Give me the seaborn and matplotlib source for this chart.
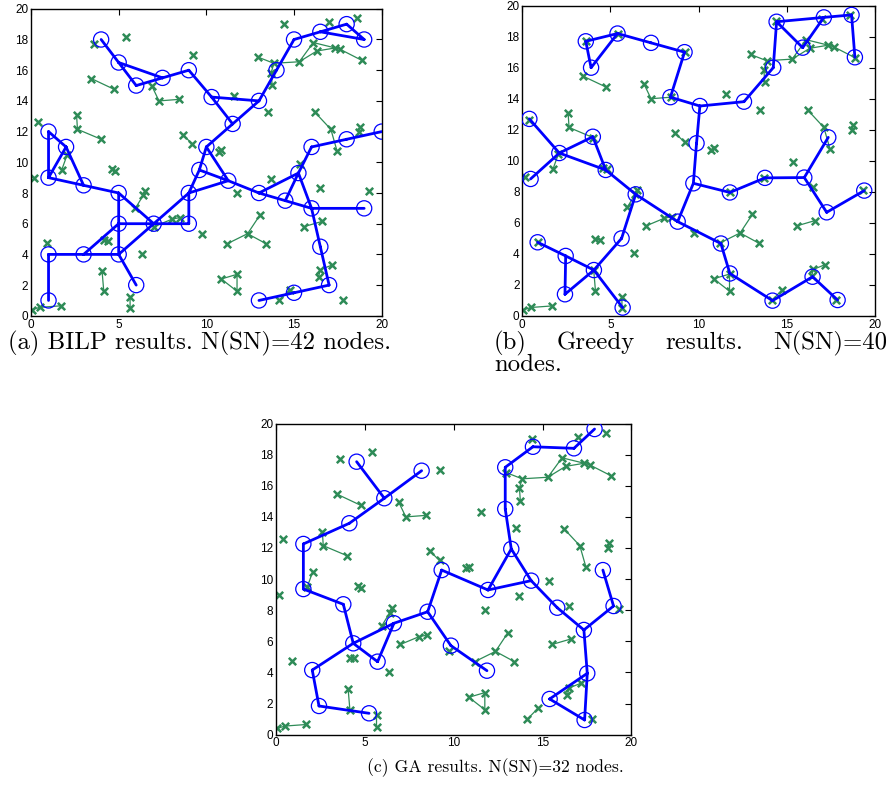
import numpy as np
import pandas as pd
import matplotlib
matplotlib.use("Agg")
import matplotlib.pyplot as plt
import seaborn as sns

# ---------------- data ----------------
# target points (green x), shared by all three panels
target_x = [3.6, 5.4, 9.25, 3.45, 4.75, 6.9, 7.3, 8.45, 0.4, 2.6,
            2.65, 4.0, 8.65, 9.2, 2.05, 1.75, 0.15, 4.6, 4.8, 6.5,
            6.4, 5.95, 7.0, 8.05, 8.5, 9.75, 0.9, 4.15, 4.4, 6.35,
            4.05, 4.15, 5.65, 5.65, 0.05, 0.5, 1.7, 14.4, 17.0, 18.6,
            12.95, 13.85, 13.7, 13.75, 15.3, 16.1, 16.3, 17.35, 17.65, 18.85,
            11.55, 13.5, 16.2, 17.1, 17.45, 18.75, 18.7, 10.7, 10.85, 15.35,
            13.7, 16.5, 19.3, 11.75, 13.05, 12.35, 11.2, 13.4, 15.55, 16.6,
            17.15, 16.5, 16.4, 10.85, 11.75, 11.75, 14.75, 14.15, 17.8]
target_y = [17.7, 18.15, 17.0, 15.45, 14.75, 14.95, 14.0, 14.1, 12.6, 13.05,
            12.15, 11.5, 11.8, 11.2, 10.45, 9.5, 8.95, 9.55, 9.45, 8.15,
            7.85, 7.0, 5.8, 6.3, 6.4, 5.35, 4.75, 4.95, 4.9, 4.05,
            2.95, 1.6, 1.25, 0.5, 0.4, 0.55, 0.65, 19.0, 19.15, 19.4,
            16.85, 16.45, 15.85, 15.05, 16.55, 17.8, 17.25, 17.45, 17.35, 16.65,
            14.3, 13.3, 13.25, 12.15, 10.75, 12.3, 12.0, 10.7, 10.8, 9.9,
            8.9, 8.3, 8.1, 8.0, 6.55, 5.35, 4.7, 4.7, 5.8, 6.15,
            3.3, 3.0, 2.55, 2.4, 2.7, 1.6, 1.7, 1.0, 1.0]
# green links between targets (1-based target numbers)
target_links = [(4, 5), (6, 7), (7, 8), (10, 11), (11, 12), (13, 14), (15, 16), (18, 19),
                (20, 21), (21, 22), (23, 24), (24, 25), (28, 29), (31, 32), (33, 34),
                (35, 36), (36, 37), (41, 42), (42, 43), (43, 44), (42, 45), (45, 46),
                (45, 47), (46, 48), (47, 48), (48, 49), (49, 50), (53, 54), (54, 55),
                (56, 57), (58, 59), (65, 66), (66, 67), (66, 68), (69, 70), (71, 72),
                (72, 73), (74, 75), (75, 76), (74, 76), (77, 78)]

# (a) BILP relay nodes
bilp_x = [4, 5, 6, 7.5, 9, 10.3, 13, 11.5, 14, 15, 16.5, 18, 19, 1, 2, 1, 3, 5, 5, 5,
          3, 1, 1, 7, 9, 9, 6, 9.6, 10, 11.25, 13, 14.5, 15.25, 16, 19, 16.5, 17, 15,
          13, 16, 18, 20]
bilp_y = [18, 16.5, 15, 15.5, 16, 14.25, 14, 12.5, 16, 18, 18.5, 19, 18, 12, 11, 9,
          8.5, 8, 6, 4, 4, 4, 1, 6, 6, 8, 2, 9.5, 11, 8.8, 8, 7.5, 9.3, 7, 7, 4.5, 2,
          1.5, 1, 11, 11.5, 12]
bilp_links = [(0, 1), (1, 2), (1, 3), (2, 3), (3, 4), (4, 5), (5, 6), (5, 7), (7, 6),
              (6, 8), (8, 9), (9, 10), (10, 11), (11, 12), (10, 12), (7, 28),
              (13, 15), (13, 14), (14, 15), (14, 16), (15, 16), (16, 17), (17, 18),
              (18, 19), (19, 20), (20, 21), (21, 22), (20, 18), (18, 23), (23, 24),
              (19, 23), (23, 25), (17, 23), (24, 25), (25, 27), (27, 28), (28, 29),
              (27, 29), (25, 29), (29, 30), (30, 31), (31, 33), (30, 32), (31, 32),
              (32, 33), (32, 39), (39, 40), (40, 41), (33, 34), (33, 35), (35, 36),
              (36, 37), (37, 38), (19, 26)]

# (b) Greedy relay nodes
greedy_x = [3.6, 5.4, 3.9, 7.3, 9.2, 8.4, 10.07, 9.88, 12.57, 14.23, 14.42, 15.9, 17.1,
            18.67, 18.86, 0.4, 2.1, 4.0, 0.47, 4.73, 6.43, 8.81, 9.7, 5.63, 4.06, 0.87,
            2.46, 2.42, 5.69, 11.77, 13.76, 15.99, 17.35, 17.26, 19.39, 11.26, 11.77,
            14.19, 16.46, 17.88]
greedy_y = [17.7, 18.2, 16.0, 17.6, 17.0, 14.1, 13.53, 11.13, 13.81, 16.0, 18.96, 17.29,
            19.24, 19.4, 16.67, 12.7, 10.5, 11.55, 8.83, 9.41, 7.84, 6.08, 8.55, 5.0,
            2.96, 4.75, 3.87, 1.4, 0.54, 7.96, 8.9, 8.92, 11.51, 6.68, 8.08, 4.67, 2.74,
            0.99, 2.53, 1.03]
greedy_links = [(0, 1), (0, 2), (2, 1), (1, 3), (3, 4), (4, 5), (5, 6), (6, 8), (8, 9),
                (9, 10), (10, 12), (12, 13), (13, 14), (10, 11), (11, 12), (6, 7),
                (7, 22), (22, 21), (15, 16), (16, 17), (16, 18), (16, 19), (17, 19),
                (19, 20), (20, 21), (21, 35), (20, 23), (23, 24), (24, 26), (26, 25),
                (26, 27), (27, 24), (24, 28), (22, 29), (29, 30), (30, 31), (31, 32),
                (31, 33), (33, 34), (35, 36), (36, 37), (37, 38), (38, 39)]

# (c) GA relay nodes
ga_x = [4.53, 6.09, 8.19, 4.12, 1.53, 1.53, 3.78, 4.34, 5.71, 6.63, 8.53, 9.32, 9.84,
        11.87, 2.03, 2.41, 5.23, 11.93, 13.24, 12.9, 12.9, 14.46, 16.77, 17.93, 14.36,
        15.83, 17.33, 19.0, 18.4, 17.52, 15.4, 17.37]
ga_y = [17.55, 15.2, 16.97, 13.59, 12.26, 9.36, 8.38, 5.87, 4.69, 7.16, 7.9, 10.58,
        5.72, 4.11, 4.15, 1.84, 1.37, 9.3, 11.94, 14.51, 17.19, 18.51, 18.41, 19.65,
        9.9, 8.16, 6.73, 8.27, 10.58, 3.94, 2.29, 0.94]
ga_links = [(0, 1), (1, 2), (1, 3), (3, 4), (4, 5), (5, 6), (6, 7), (7, 8), (8, 9),
            (7, 9), (9, 10), (14, 7), (14, 15), (15, 16), (10, 11), (10, 12), (12, 13),
            (11, 17), (17, 18), (18, 24), (17, 24), (18, 19), (19, 20), (20, 21),
            (21, 22), (22, 23), (24, 25), (25, 26), (26, 27), (27, 28), (26, 29),
            (29, 31), (29, 30), (30, 31)]

axis_ticks_x = [0, 5, 10, 15, 20]
axis_ticks_y = [0, 2, 4, 6, 8, 10, 12, 14, 16, 18, 20]

caption_a = "(a) BILP results. N(SN)=42 nodes."
caption_b1 = ["(b)", "Greedy", "results.", "N(SN)=40"]
caption_b2 = "nodes."
caption_c = "(c) GA results. N(SN)=32 nodes."

# ---------------- style ----------------
sns.set_style("white")
plt.rcParams["font.family"] = ["Liberation Sans", "DejaVu Sans"]

GREEN = "#2e8b57"
BLUE = "#0000ff"
W, H = 892, 798

fig = plt.figure(figsize=(W / 100, H / 100), dpi=100)


def seg_xy(xs, ys, links, base=0):
    px, py = [], []
    for i, j in links:
        i -= base
        j -= base
        px += [xs[i], xs[j], np.nan]
        py += [ys[i], ys[j], np.nan]
    return px, py


def draw_panel(rect, rx, ry, rlinks):
    ax = fig.add_axes(rect)
    gx, gy = seg_xy(target_x, target_y, target_links, base=1)
    ax.plot(gx, gy, color=GREEN, lw=0.9, zorder=1)
    tdf = pd.DataFrame({"x": target_x, "y": target_y})
    sns.scatterplot(data=tdf, x="x", y="y", marker="x", color=GREEN, s=28,
                    linewidth=1.8, ax=ax, zorder=2, legend=False)
    bx, by = seg_xy(rx, ry, rlinks)
    ax.plot(bx, by, color=BLUE, lw=2.0, zorder=3, solid_capstyle="round")
    rdf = pd.DataFrame({"x": rx, "y": ry})
    sns.scatterplot(data=rdf, x="x", y="y", marker="o", s=120, facecolor="none",
                    edgecolor=BLUE, linewidth=0.9, ax=ax, zorder=4, legend=False)
    ax.set_xlim(0, 20)
    ax.set_ylim(0, 20)
    ax.set_xticks(axis_ticks_x)
    ax.set_yticks(axis_ticks_y)
    ax.set_xlabel("")
    ax.set_ylabel("")
    ax.tick_params(direction="in", length=4, width=0.8, top=True, right=True,
                   labelsize=8.5, pad=2.0, colors="black")
    for s in ax.spines.values():
        s.set_color("black")
        s.set_linewidth(1.0)
    return ax


draw_panel([31 / W, 1 - 315.8 / H, 350.7 / W, 307 / H], bilp_x, bilp_y, bilp_links)
draw_panel([522.3 / W, 1 - 316 / H, 352.7 / W, 310.4 / H], greedy_x, greedy_y, greedy_links)
draw_panel([276.2 / W, 1 - 734.6 / H, 355.1 / W, 311 / H], ga_x, ga_y, ga_links)

renderer = fig.canvas.get_renderer()
serif = ["cmr10", "DejaVu Serif"]

# caption (c) at the small size
fig.text(495 / W, 1 - 768 / H, caption_c, ha="center", va="center",
         family=serif, fontsize=12.7, color="black")

# captions (a), (b): larger size, so that (a) spans 8..392 px
ta = fig.text(8 / W, 1 - 343 / H, caption_a, ha="left", va="center",
              family=serif, fontsize=12.7, color="black")
wa = ta.get_window_extent(renderer).width
big = 12.7 * 384.0 / wa
ta.set_fontsize(big)


def justified(words, x0, x1, yc, size):
    texts = [fig.text(0, 1 - yc / H, w, ha="left", va="center", family=serif,
                      fontsize=size, color="black") for w in words]
    widths = [t.get_window_extent(renderer).width for t in texts]
    gap = (x1 - x0 - sum(widths)) / (len(words) - 1)
    x = x0
    for t, w in zip(texts, widths):
        t.set_x(x / W)
        x += w + gap


justified(caption_b1, 494, 887, 343, big)
fig.text(494 / W, 1 - 365 / H, caption_b2, ha="left", va="center", family=serif,
         fontsize=big, color="black")

fig.savefig("out.png", dpi=100, facecolor="white")
